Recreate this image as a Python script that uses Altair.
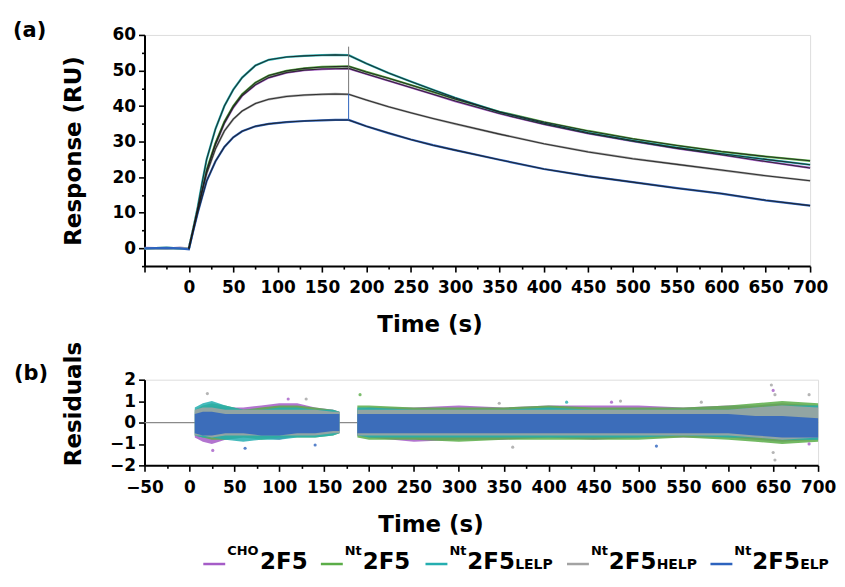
import altair as alt
import pandas as pd

FONT = "DejaVu Sans"

SERIES = ["CHO2F5", "Nt2F5", "Nt2F5LELP", "Nt2F5HELP", "Nt2F5ELP"]
COLORS = ["#a55cc7", "#5bad48", "#25aeb0", "#a3a3a3", "#2d63be"]

# ---- panel (a): sensorgrams ----
TIME = [-50, -25, -10, 0, 5, 10, 15, 20, 30, 40, 50, 60, 75, 90, 110, 130, 150, 165, 180,
        200, 225, 250, 275, 300, 350, 400, 450, 500, 550, 600, 650, 700]
RESP_CHO = [0.1, 0.0, 0.1, 0.0, 5.3, 10.8, 16.2, 21.5, 29.2, 35.2, 39.6, 42.9, 46.0, 48.0, 49.4, 50.1, 50.4, 50.5, 50.6,
            49.0, 47.1, 45.2, 43.3, 41.4, 37.9, 34.9, 32.3, 30.1, 28.1, 26.3, 24.4, 22.6]
RESP_NT = [0.0, 0.1, 0.0, 0.0, 5.5, 11.0, 16.5, 22.0, 29.6, 35.6, 40.0, 43.3, 46.6, 48.6, 49.9, 50.6, 51.0, 51.1, 51.2,
           49.6, 47.8, 45.9, 44.0, 42.0, 38.4, 35.5, 33.0, 30.8, 28.9, 27.2, 25.8, 24.6]
RESP_LELP = [0.0, 0.1, 0.0, 0.0, 5.6, 11.6, 18.5, 25.0, 33.6, 40.0, 44.6, 48.0, 51.4, 53.0, 53.8, 54.1, 54.3, 54.4, 54.3,
             52.0, 49.3, 46.9, 44.6, 42.3, 38.3, 35.2, 32.5, 30.3, 28.3, 26.6, 25.0, 23.5]
RESP_HELP = [0.0, 0.0, 0.1, 0.0, 5.4, 10.9, 16.0, 21.0, 28.0, 33.0, 36.3, 38.6, 40.7, 41.9, 42.7, 43.1, 43.3, 43.4, 43.3,
             41.7, 39.8, 38.1, 36.5, 35.0, 32.1, 29.4, 27.1, 25.2, 23.6, 22.0, 20.4, 19.0]
RESP_ELP = [0.0, 0.1, 0.0, -0.3, 5.0, 10.0, 14.5, 18.9, 24.5, 28.5, 31.2, 32.9, 34.3, 35.0, 35.5, 35.8, 36.0, 36.1, 36.1,
            34.3, 32.4, 30.6, 29.0, 27.6, 24.9, 22.3, 20.3, 18.6, 16.9, 15.4, 13.5, 12.0]

# injection-end artefact at 180 s
SPIKE_T = [180, 180]
SPIKE_LO = [36.1, 43.5]
SPIKE_HI = [43.5, 56.7]
SPIKE_COL = ["#2d63be", "#777777"]

# ---- panel (b): residual envelopes ----
RES_T = [6, 15, 25, 40, 60, 80, 100, 120, 140, 160, 167,
         187, 200, 250, 300, 350, 400, 450, 500, 550, 600, 630, 660, 700]
RES_SEG = [1] * 11 + [2] * 13
RES_HI = {
    "CHO2F5":    [0.5, 0.7, 0.8, 0.7, 0.7, 0.8, 0.9, 0.9, 0.7, 0.6, 0.5, 0.6, 0.7, 0.7, 0.8, 0.7, 0.8, 0.8, 0.8, 0.7, 0.8, 0.8, 0.9, 0.8],
    "Nt2F5":     [0.6, 0.8, 0.9, 0.8, 0.6, 0.7, 0.8, 0.8, 0.7, 0.6, 0.5, 0.8, 0.8, 0.7, 0.7, 0.7, 0.8, 0.7, 0.7, 0.7, 0.8, 0.9, 1.0, 0.9],
    "Nt2F5LELP": [0.7, 0.9, 1.0, 0.8, 0.6, 0.6, 0.7, 0.7, 0.6, 0.6, 0.5, 0.7, 0.7, 0.6, 0.6, 0.6, 0.7, 0.6, 0.6, 0.6, 0.6, 0.7, 0.8, 0.8],
    "Nt2F5HELP": [0.6, 0.7, 0.7, 0.6, 0.6, 0.6, 0.6, 0.6, 0.6, 0.5, 0.5, 0.6, 0.6, 0.6, 0.6, 0.6, 0.6, 0.6, 0.6, 0.6, 0.6, 0.7, 0.8, 0.7],
    "Nt2F5ELP":  [0.4, 0.5, 0.5, 0.4, 0.4, 0.4, 0.4, 0.4, 0.4, 0.4, 0.4, 0.4, 0.4, 0.4, 0.4, 0.4, 0.4, 0.4, 0.4, 0.4, 0.4, 0.3, 0.3, 0.2],
}
RES_LO = {
    "CHO2F5":    [-0.7, -0.9, -1.0, -0.8, -0.7, -0.7, -0.8, -0.6, -0.6, -0.5, -0.5, -0.6, -0.7, -0.9, -0.8, -0.8, -0.7, -0.8, -0.7, -0.7, -0.7, -0.8, -0.9, -0.8],
    "Nt2F5":     [-0.6, -0.7, -0.8, -0.8, -0.7, -0.8, -0.7, -0.7, -0.7, -0.6, -0.5, -0.7, -0.8, -0.8, -0.9, -0.8, -0.8, -0.8, -0.8, -0.7, -0.8, -0.9, -1.0, -0.9],
    "Nt2F5LELP": [-0.6, -0.7, -0.7, -0.8, -0.9, -0.8, -0.8, -0.7, -0.7, -0.6, -0.5, -0.6, -0.7, -0.7, -0.7, -0.7, -0.7, -0.7, -0.7, -0.6, -0.7, -0.7, -0.8, -0.8],
    "Nt2F5HELP": [-0.6, -0.6, -0.7, -0.6, -0.6, -0.6, -0.6, -0.6, -0.6, -0.5, -0.5, -0.6, -0.6, -0.6, -0.6, -0.6, -0.6, -0.6, -0.6, -0.6, -0.6, -0.7, -0.8, -0.7],
    "Nt2F5ELP":  [-0.5, -0.6, -0.6, -0.5, -0.5, -0.6, -0.6, -0.5, -0.5, -0.4, -0.4, -0.5, -0.5, -0.5, -0.5, -0.5, -0.5, -0.5, -0.5, -0.5, -0.5, -0.6, -0.7, -0.7],
}
OUT_T = [20, 26, 62, 110, 130, 140, 190, 345, 360, 420, 470, 480, 520, 570, 648, 650, 652, 650, 652, 690, 690]
OUT_R = [1.35, -1.3, -1.2, 1.1, 1.1, -1.05, 1.3, 0.9, -1.15, 0.95, 0.95, 1.0, -1.1, 0.95, 1.75, 1.5, 1.3, -1.4, -1.75, 1.3, -1.0]
OUT_S = ["Nt2F5HELP", "CHO2F5", "Nt2F5ELP", "CHO2F5", "Nt2F5HELP", "Nt2F5ELP", "Nt2F5", "Nt2F5HELP", "Nt2F5HELP",
         "Nt2F5LELP", "CHO2F5", "Nt2F5HELP", "Nt2F5ELP", "Nt2F5HELP", "Nt2F5HELP", "CHO2F5", "Nt2F5HELP",
         "Nt2F5HELP", "Nt2F5HELP", "Nt2F5HELP", "CHO2F5"]

# ---- legend text ----
LEG_SUP = ["CHO", "Nt", "Nt", "Nt", "Nt"]
LEG_MAIN = ["2F5", "2F5", "2F5", "2F5", "2F5"]
LEG_SUB = ["", "", "LELP", "HELP", "ELP"]

# ---------------- tables ----------------
RESP = [RESP_CHO, RESP_NT, RESP_LELP, RESP_HELP, RESP_ELP]
sens = pd.DataFrame([
    {"series": s, "t": t, "r": v}
    for s, vals in zip(SERIES, RESP) for t, v in zip(TIME, vals)
])
spike = pd.DataFrame({"t": SPIKE_T, "lo": SPIKE_LO, "hi": SPIKE_HI, "col": SPIKE_COL})
res = pd.DataFrame([
    {"series": s, "t": t, "seg": g, "hi": h, "lo": l}
    for s in SERIES for t, g, h, l in zip(RES_T, RES_SEG, RES_HI[s], RES_LO[s])
])
outl = pd.DataFrame({"t": OUT_T, "r": OUT_R, "series": OUT_S})

color = alt.Color("series:N", scale=alt.Scale(domain=SERIES, range=COLORS), legend=None)

W1, H1 = 668, 232
W2, H2 = 676, 86
SPACING = 114


def common_axis(**kw):
    base = dict(
        grid=False, domainColor="black", domainWidth=2, tickColor="black", tickWidth=1.6,
        labelFont=FONT, labelFontWeight="bold", labelFontSize=17, labelColor="black",
        titleFont=FONT, titleFontWeight="bold", titleFontSize=23, titleColor="black",
        labelOverlap=False,
    )
    base.update(kw)
    return alt.Axis(**base)


def x_axis(label_min, title_x):
    return common_axis(
        values=list(range(-50, 701, 25)),
        labelExpr=f"datum.value >= {label_min} && datum.value % 50 === 0 ? datum.label : ''",
        tickSize={"condition": {"test": "datum.value % 50 === 0", "value": 6}, "value": 3},
        labelPadding=8, labelFlush=False, format="d",
        title="Time (s)", titleX=title_x, titleY=48,
    )


# ---------------- panel (a) ----------------
xa_scale = alt.Scale(domain=[-50, 700], nice=False, zero=False)
xa_axis = x_axis(0, 286)
ya_scale = alt.Scale(domain=[-5, 60], nice=False, zero=False)
ya_axis = common_axis(
    values=list(range(-5, 61, 5)),
    labelExpr="datum.value >= 0 && datum.value % 10 === 0 ? datum.label : ''",
    tickSize={"condition": {"test": "datum.value % 10 === 0", "value": 6}, "value": 3},
    labelPadding=3, format="d", title="Response (RU)", titleX=-59, titleY=H1 / 2,
)
xa = alt.X("t:Q", scale=xa_scale, axis=xa_axis)
ya = alt.Y("r:Q", scale=ya_scale, axis=ya_axis)

data_lines = alt.Chart(sens).mark_line(strokeWidth=2.2).encode(x=xa, y=ya, color=color)
fit_lines = (alt.Chart(sens).transform_filter("datum.t >= 0")
             .mark_line(color="#1c1c1c", strokeWidth=1.1, opacity=0.85)
             .encode(x=xa, y=ya, detail="series:N"))
spike_rule = alt.Chart(spike).mark_rule(strokeWidth=1).encode(
    x=xa, y=alt.Y("lo:Q", scale=ya_scale, axis=ya_axis), y2="hi:Q",
    color=alt.Color("col:N", scale=None))
lab_a = alt.Chart(pd.DataFrame({"lab": ["(a)"]})).mark_text(
    align="left", baseline="top", font=FONT, fontWeight="bold", fontSize=21, color="black"
).encode(x=alt.value(-132), y=alt.value(-15), text="lab:N")

panel_a = alt.layer(data_lines, fit_lines, spike_rule, lab_a).properties(width=W1, height=H1)

# ---------------- panel (b) ----------------
xb_scale = alt.Scale(domain=[-50, 700], nice=False, zero=False)
xb_axis = x_axis(-50, 287)
yb_scale = alt.Scale(domain=[-2, 2], nice=False, zero=False)
yb_axis = common_axis(
    values=[-2, -1.5, -1, -0.5, 0, 0.5, 1, 1.5, 2],
    labelExpr="datum.value % 1 === 0 ? datum.label : ''",
    tickSize={"condition": {"test": "datum.value % 1 === 0", "value": 6}, "value": 3},
    labelPadding=3, format="d", title="Residuals", titleX=-59, titleY=24,
)
xb = alt.X("t:Q", scale=xb_scale, axis=xb_axis)

zero = alt.Chart(pd.DataFrame({"z": [0]})).mark_rule(color="#8a8a8a", strokeWidth=1.2).encode(
    y=alt.Y("z:Q", scale=yb_scale, axis=yb_axis))

bands = []
for s in SERIES:
    bands.append(
        alt.Chart(res).transform_filter(alt.datum.series == s)
        .mark_area(opacity=0.85)
        .encode(x=xb, y=alt.Y("hi:Q", scale=yb_scale, axis=yb_axis), y2="lo:Q",
                color=color, detail="seg:N")
    )
outliers = alt.Chart(outl).mark_circle(size=10, opacity=0.8).encode(
    x=xb, y=alt.Y("r:Q", scale=yb_scale, axis=yb_axis), color=color)
lab_b = alt.Chart(pd.DataFrame({"lab": ["(b)"]})).mark_text(
    align="left", baseline="top", font=FONT, fontWeight="bold", fontSize=21, color="black"
).encode(x=alt.value(-131), y=alt.value(-17), text="lab:N")

# legend (positioned below panel b, in its pixel frame)
OX, OY = 144, 379          # page position of panel (b) origin
LEG_START = [203, 321, 426, 568, 712]
SUP_W = {"CHO": 33, "Nt": 18}
MAIN_W = 48
BASE_Y = 569
leg_lines, leg_text = [], []
for s, c, x0, sup, main, sub in zip(SERIES, COLORS, LEG_START, LEG_SUP, LEG_MAIN, LEG_SUB):
    leg_lines.append({"x1": x0 - OX, "x2": x0 + 22 - OX, "y": BASE_Y - 5 - OY, "col": c})
    xs = x0 + 24
    leg_text.append({"txt": sup, "x": xs - OX, "y": BASE_Y - 14 - OY, "size": 13})
    xm = xs + SUP_W[sup]
    leg_text.append({"txt": main, "x": xm - OX, "y": BASE_Y - OY, "size": 23})
    if sub:
        leg_text.append({"txt": sub, "x": xm + MAIN_W - OX, "y": BASE_Y - OY, "size": 14})

legend_lines = alt.Chart(pd.DataFrame(leg_lines)).mark_rule(strokeWidth=2.5).encode(
    x=alt.X("x1:Q", scale=None, axis=None), x2="x2:Q",
    y=alt.Y("y:Q", scale=None, axis=None), color=alt.Color("col:N", scale=None))
legend_text = alt.Chart(pd.DataFrame(leg_text)).mark_text(
    align="left", baseline="alphabetic", font=FONT, fontWeight="bold", color="black"
).encode(x=alt.X("x:Q", scale=None, axis=None), y=alt.Y("y:Q", scale=None, axis=None),
         text="txt:N", size=alt.Size("size:Q", scale=None, legend=None))

panel_b = alt.layer(zero, *bands, outliers, lab_b, legend_lines, legend_text).properties(width=W2, height=H2)

chart = (
    alt.vconcat(panel_a, panel_b, spacing=SPACING, bounds="flush")
    .resolve_scale(x="independent", y="independent")
    .properties(padding={"left": 4, "top": 10, "right": 0, "bottom": 0})
    .configure_view(stroke=None)
    .configure(background="white")
)

chart.save("out.html", embed_options={"renderer": "svg", "actions": False})
